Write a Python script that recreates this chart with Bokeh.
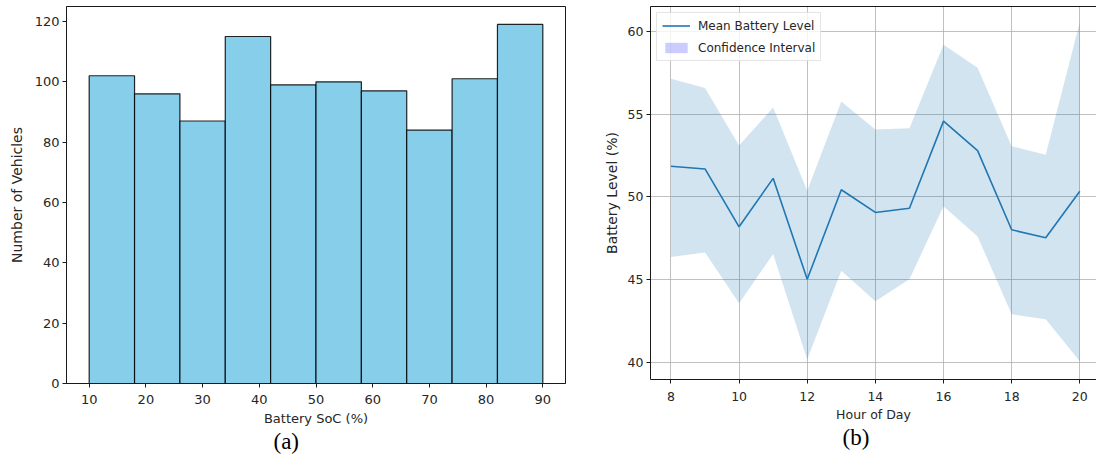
from bokeh.plotting import figure
from bokeh.models import Range1d, FixedTicker, Title, LinearAxis
from bokeh.layouts import row
from bokeh.embed import file_html
from bokeh.resources import INLINE

# ---- data (a): histogram of battery state of charge ----
soc_edges = [10, 18, 26, 34, 42, 50, 58, 66, 74, 82, 90]
soc_counts = [102, 96, 87, 115, 99, 100, 97, 84, 101, 119]
soc_ticks = [10, 20, 30, 40, 50, 60, 70, 80, 90]
count_ticks = [0, 20, 40, 60, 80, 100, 120]

# ---- data (b): mean battery level by hour with confidence interval ----
hours = [8, 9, 10, 11, 12, 13, 14, 15, 16, 17, 18, 19, 20]
mean_level = [51.84, 51.68, 48.18, 51.11, 45.01, 50.42, 49.05, 49.30, 54.57, 52.79, 48.00, 47.52, 50.33]
ci_upper = [57.13, 56.57, 53.09, 55.39, 50.36, 55.76, 54.06, 54.14, 59.19, 57.80, 53.05, 52.53, 60.57]
ci_lower = [46.36, 46.63, 43.56, 46.53, 40.16, 45.52, 43.68, 45.01, 49.42, 47.60, 42.89, 42.59, 40.06]
hour_ticks = [8, 10, 12, 14, 16, 18, 20]
level_ticks = [40, 45, 50, 55, 60]

FONT = "DejaVu Sans"
TXT = "#262626"
SPINE = "#1a1a1a"


def style_axis(ax, tick_size, label_size, tick_standoff, label_standoff):
    ax.axis_line_color = SPINE
    ax.axis_line_width = 1
    ax.major_tick_line_color = SPINE
    ax.major_tick_out = 4
    ax.major_tick_in = 0
    ax.minor_tick_line_color = None
    ax.major_label_text_font = FONT
    ax.major_label_text_font_size = tick_size
    ax.major_label_text_color = TXT
    ax.major_label_standoff = tick_standoff
    ax.axis_label_text_font = FONT
    ax.axis_label_text_font_size = label_size
    ax.axis_label_text_font_style = "normal"
    ax.axis_label_text_color = TXT
    ax.axis_label_standoff = label_standoff


def caption(text, offset):
    return Title(text=text, align="left", offset=offset, vertical_align="top",
                 standoff=0, text_font="Liberation Serif", text_font_size="23px",
                 text_font_style="normal", text_color="black")


# ---------------- (a) ----------------
p1 = figure(frame_width=499, frame_height=377,
            x_range=Range1d(6, 94), y_range=Range1d(0, 124.95),
            min_border_left=66, min_border_right=34, min_border_top=5,
            min_border_bottom=75,
            output_backend="svg", toolbar_location=None)
p1.quad(left=soc_edges[:-1], right=soc_edges[1:], bottom=0, top=soc_counts,
        fill_color="#87CEEB", line_color="black", line_width=1.2, line_alpha=0.85)
p1.xgrid.visible = False
p1.ygrid.visible = False
p1.outline_line_color = SPINE
p1.outline_line_width = 1
p1.xaxis.ticker = FixedTicker(ticks=soc_ticks)
p1.yaxis.ticker = FixedTicker(ticks=count_ticks)
p1.xaxis.axis_label = "Battery SoC (%)"
p1.yaxis.axis_label = "Number of Vehicles"
style_axis(p1.xaxis[0], "13px", "13px", 7, 4)
style_axis(p1.yaxis[0], "13px", "14px", 3, 7)
p1.add_layout(caption("(a)", 207), "below")

# ---------------- (b) ----------------
p2 = figure(frame_width=446, frame_height=373,
            x_range=Range1d(7.4, 20.49), y_range=Range1d(38.95, 61.5),
            min_border_left=51, min_border_right=0, min_border_top=6,
            min_border_bottom=77,
            output_backend="svg", toolbar_location=None)
p2.outline_line_color = None
p2.varea(x=hours, y1=ci_lower, y2=ci_upper, fill_color="#1f77b4", fill_alpha=0.2)
p2.line(x=hours, y=mean_level, line_color="#1f77b4", line_width=1.6,
        legend_label="Mean Battery Level")
# legend-only swatch (zero-size quad anchored on the first data point)
p2.quad(left=hours[:1], right=hours[:1], top=mean_level[:1], bottom=mean_level[:1],
        fill_color="blue", fill_alpha=0.2, line_color=None,
        legend_label="Confidence Interval")
p2.xaxis.ticker = FixedTicker(ticks=hour_ticks)
p2.yaxis.ticker = FixedTicker(ticks=level_ticks)
p2.xaxis.axis_label = "Hour of Day"
p2.yaxis.axis_label = "Battery Level (%)"
style_axis(p2.xaxis[0], "12.5px", "12.5px", 8, 3)
style_axis(p2.yaxis[0], "12.5px", "14px", 3, 5)
for g in (p2.xgrid[0], p2.ygrid[0]):
    g.grid_line_color = "#b0b0b0"
    g.grid_line_width = 1
    g.grid_line_alpha = 0.8
top_axis = LinearAxis(ticker=FixedTicker(ticks=[]), major_label_text_font_size="0px",
                      major_tick_out=0, minor_tick_out=0,
                      axis_line_color=SPINE, axis_line_width=1)
p2.add_layout(top_axis, "above")

lg = p2.legend[0]
lg.location = "top_left"
lg.margin = 6
lg.padding = 5
lg.spacing = 7
lg.glyph_width = 28
lg.glyph_height = 13
lg.label_height = 15
lg.label_standoff = 8
lg.label_text_font = FONT
lg.label_text_font_size = "12px"
lg.label_text_color = TXT
lg.border_line_color = "#cccccc"
lg.border_line_width = 1
lg.background_fill_alpha = 0.8

p2.add_layout(caption("(b)", 192), "below")

layout = row(p1, p2)
open("out.html", "w").write(file_html(layout, INLINE))
